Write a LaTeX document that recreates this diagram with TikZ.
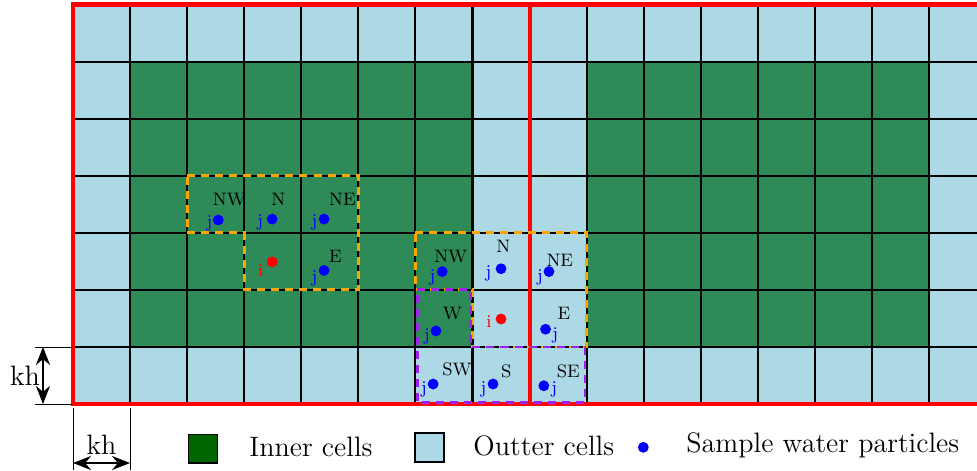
\documentclass[tikz,border=0pt]{standalone}
\usetikzlibrary{arrows.meta}
\definecolor{cellgreen}{RGB}{46,139,87}
\definecolor{cellblue}{RGB}{173,216,230}
\definecolor{legendgreen}{RGB}{0,100,0}
\definecolor{dashorange}{RGB}{255,165,0}
\definecolor{dashpurple}{RGB}{160,32,240}
\begin{document}
\begin{tikzpicture}[
  bdot/.style={circle,fill=blue,inner sep=0pt,minimum size=0.19cm},
  rdot/.style={circle,fill=red,inner sep=0pt,minimum size=0.19cm},
  dirlab/.style={inner sep=0pt,font=\fontsize{9}{10}\selectfont},
  jlab/.style={inner sep=0pt,text=blue,font=\fontsize{9}{10}\selectfont},
  ilab/.style={inner sep=0pt,text=red,font=\fontsize{9}{10}\selectfont},
  bigtext/.style={inner sep=0pt,font=\fontsize{14}{16}\selectfont},
  orangebox/.style={draw=dashorange,line width=1.4pt,dash pattern=on 4pt off 3pt},
  purplebox/.style={draw=dashpurple,line width=1.4pt,dash pattern=on 4pt off 3pt},
  dimline/.style={line width=0.4pt},
  dimarrow/.style={line width=0.9pt,{Stealth[length=9pt,width=7pt]}-{Stealth[length=9pt,width=7pt]}},
  legbox/.style={draw=black,line width=0.9pt,minimum width=0.51cm,minimum height=0.5cm,inner sep=0pt}
]
\useasboundingbox (-1.279,-1.157) rectangle (15.840,7.079);
\clip (-1.279,-1.157) rectangle (15.840,7.079);
% cells
\fill[cellblue] (0,0) rectangle (16.5,7);
\fill[cellgreen] (1,1) rectangle (7,6);
\fill[cellgreen] (9,1) rectangle (15,6);
\draw[black,line width=1pt] (0,0) grid (16.5,7);
% red border
\draw[red,line width=2pt] (0,0) rectangle (16.5,7);
\draw[red,line width=2pt] (8,0) -- (8,7);
% left neighbourhood
\draw[orangebox] (2,4) -- (5,4) -- (5,2) -- (3,2) -- (3,3) -- (2,3) -- cycle;
\node[bdot] (lnw) at (2.546,3.224) {};
\node[bdot] (ln) at (3.49,3.24) {};
\node[bdot] (lne) at (4.40,3.24) {};
\node[rdot] (li) at (3.49,2.49) {};
\node[bdot] (le) at (4.40,2.34) {};
\node[dirlab] (lnwt) at (2.74,3.59) {NW};
\node[dirlab] (lnt) at (3.60,3.59) {N};
\node[dirlab] (lnet) at (4.72,3.59) {NE};
\node[dirlab] (let) at (4.60,2.58) {E};
\node[jlab] (lnwj) at (2.39,3.17) {j};
\node[jlab] (lnj) at (3.28,3.19) {j};
\node[jlab] (lnej) at (4.23,3.18) {j};
\node[jlab] (lej) at (4.23,2.20) {j};
\node[ilab] (lii) at (3.29,2.34) {i};
% right neighbourhood
\draw[orangebox] (6,3) -- (9,3) -- (9,1) -- (7,1) -- (7,2) -- (6,2) -- cycle;
\draw[purplebox] (6.03,2) -- (6.97,2) -- (6.97,1) -- (8.97,1) -- (8.97,0.03) -- (6.03,0.03) -- cycle;
\node[bdot] (rnw) at (6.47,2.32) {};
\node[bdot] (rn) at (7.50,2.37) {};
\node[bdot] (rne) at (8.34,2.32) {};
\node[bdot] (rw) at (6.36,1.28) {};
\node[rdot] (ri) at (7.50,1.49) {};
\node[bdot] (re) at (8.28,1.31) {};
\node[bdot] (rsw) at (6.31,0.35) {};
\node[bdot] (rs) at (7.36,0.35) {};
\node[bdot] (rse) at (8.25,0.32) {};
\node[dirlab] (rnwt) at (6.62,2.59) {NW};
\node[dirlab] (rnt) at (7.54,2.76) {N};
\node[dirlab] (rnet) at (8.53,2.51) {NE};
\node[dirlab] (rwt) at (6.65,1.58) {W};
\node[dirlab] (ret) at (8.60,1.58) {E};
\node[dirlab] (rswt) at (6.73,0.60) {SW};
\node[dirlab] (rst) at (7.59,0.58) {S};
\node[dirlab] (rset) at (8.68,0.58) {SE};
\node[jlab] (rnwj) at (6.30,2.22) {j};
\node[jlab] (rnj) at (7.28,2.29) {j};
\node[jlab] (rnej) at (8.18,2.22) {j};
\node[jlab] (rwj) at (6.20,1.18) {j};
\node[jlab] (rej) at (8.45,1.21) {j};
\node[jlab] (rswj) at (6.15,0.25) {j};
\node[jlab] (rsj) at (7.19,0.25) {j};
\node[jlab] (rsej) at (8.43,0.25) {j};
\node[ilab] (rii) at (7.29,1.45) {i};
% vertical dimension
\coordinate (vt0) at (-0.66,1);
\coordinate (vt1) at (-0.02,1);
\coordinate (vb0) at (-0.66,0);
\coordinate (vb1) at (-0.02,0);
\draw[dimline] (vt0) -- (vt1);
\draw[dimline] (vb0) -- (vb1);
\coordinate (va) at (-0.526,1);
\coordinate (vb) at (-0.526,0);
\draw[dimarrow] (va) -- (vb);
\node[bigtext] (vkh) at (-0.84,0.5) {kh};
% horizontal dimension
\coordinate (hl0) at (0,-0.07);
\coordinate (hl1) at (0,-1.16);
\coordinate (hr0) at (1,-0.07);
\coordinate (hr1) at (1,-1.16);
\draw[dimline] (hl0) -- (hl1);
\draw[dimline] (hr0) -- (hr1);
\coordinate (ha) at (0,-1.034);
\coordinate (hb) at (1,-1.034);
\draw[dimarrow] (ha) -- (hb);
\node[bigtext] (hkh) at (0.5,-0.72) {kh};
% legend
\node[legbox,fill=legendgreen] (leg1) at (2.278,-0.785) {};
\node[bigtext,anchor=base west] (leg1t) at (3.084,-0.923) {Inner cells};
\node[legbox,fill=cellblue] (leg2) at (6.247,-0.762) {};
\node[bigtext,anchor=base west] (leg2t) at (7.01,-0.90) {Outter cells};
\node[bdot] (leg3) at (9.993,-0.759) {};
\node[bigtext,anchor=base west] (leg3t) at (10.741,-0.853) {Sample water particles};
\end{tikzpicture}
\end{document}
